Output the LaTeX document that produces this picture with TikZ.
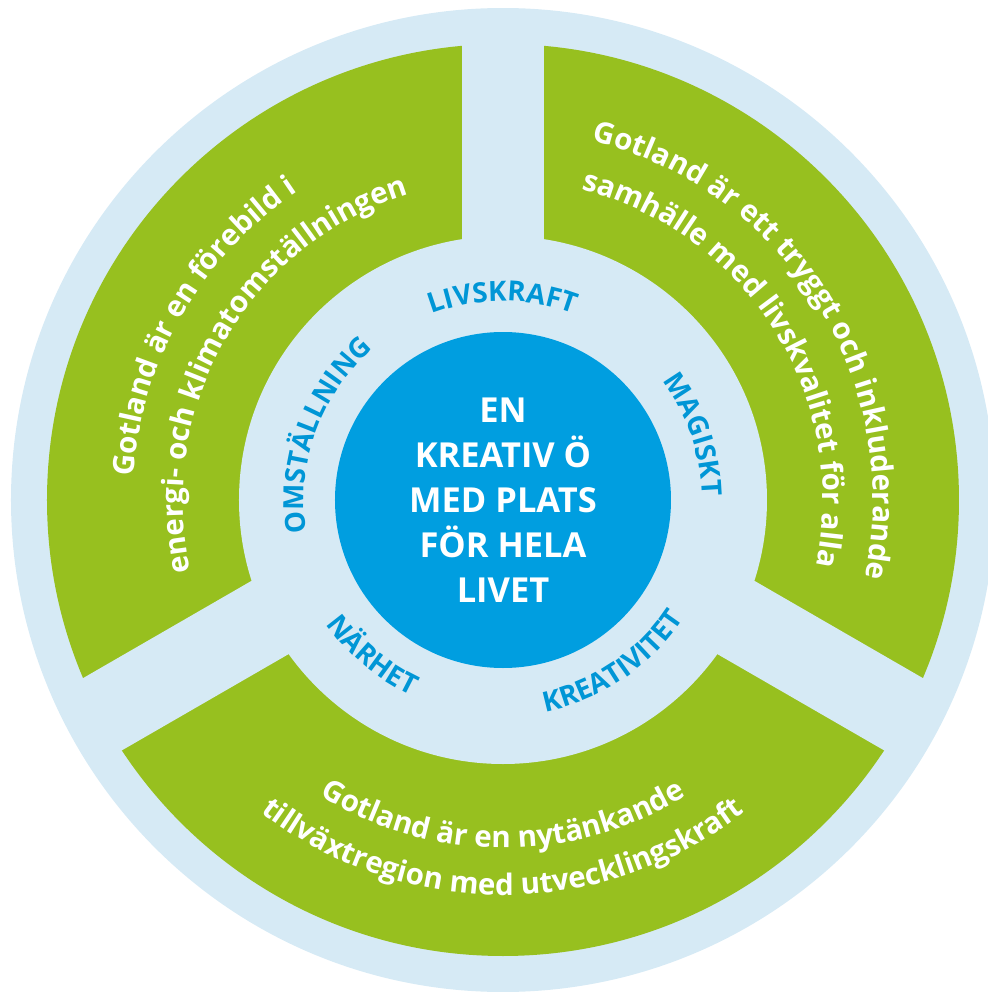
\documentclass[tikz,border=0pt]{standalone}
\usepackage{fontspec}
\setmainfont{Open Sans}
\usetikzlibrary{decorations.text}
\definecolor{ringblue}{RGB}{214,234,245}
\definecolor{leafgreen}{RGB}{151,192,31}
\definecolor{coreblue}{RGB}{0,158,224}
\definecolor{wordblue}{RGB}{0,150,214}
\newcommand\leaffont{\bfseries\fontsize{8.4}{10}\selectfont}
\newcommand\wordfont{\bfseries\fontsize{7.9}{9}\selectfont}
\newcommand\corefont{\bfseries\fontsize{9.8}{12.8}\selectfont}
\begin{document}
\begin{tikzpicture}[
  leaf/.style={decorate,decoration={text along path,text align=center,text color=white}},
  word/.style={decorate,decoration={text along path,text align=center,text color=wordblue}},
  core/.style={circle,fill=coreblue,minimum size=3.36cm,inner sep=0pt,text=white,align=center,font=\corefont}]
  \useasboundingbox (-5.03,-4.92) rectangle (4.85,5.00);
  % rings
  \fill[ringblue] (0,0) circle (4.92);
  \fill[leafgreen] (0,0) circle (4.56);
  \begin{scope}
    \clip (0,0) circle (4.75);
    \foreach \a in {90,210,330}
      \fill[ringblue,rotate around={\a:(0,0.17)}] (0,-0.24) rectangle (5,0.58);
  \end{scope}
  \fill[ringblue] (0,0) circle (2.64);
  \node[core] (core) at (0,0) {EN\\KREATIV Ö\\MED PLATS\\FÖR HELA\\LIVET};
  % green sectors
  \path[leaf,decoration={text={|\leaffont|Gotland är en förebild i}}]
    (210:3.70) arc[start angle=210,end angle=90,radius=3.70];
  \path[leaf,decoration={text={|\leaffont|energi- och klimatomställningen}}]
    (210:3.20) arc[start angle=210,end angle=90,radius=3.20];
  \path[leaf,decoration={text={|\leaffont|Gotland är ett tryggt och inkluderande}}]
    (92:3.70) arc[start angle=92,end angle=-28,radius=3.70];
  \path[leaf,decoration={text={|\leaffont|samhälle med livskvalitet för alla}}]
    (92:3.20) arc[start angle=92,end angle=-28,radius=3.20];
  \path[leaf,decoration={text={|\leaffont|Gotland är en nytänkande}}]
    (210:3.48) arc[start angle=210,end angle=330,radius=3.48];
  \path[leaf,decoration={text={|\leaffont|tillväxtregion med utvecklingskraft}}]
    (210:3.95) arc[start angle=210,end angle=330,radius=3.95];
  % inner words
  \path[word,decoration={text={|\wordfont|LIVSKRAFT}}]
    (135:1.99) arc[start angle=135,end angle=45,radius=1.99];
  \path[word,decoration={text={|\wordfont|MAGISKT}}]
    (64:1.99) arc[start angle=64,end angle=-26,radius=1.99];
  \path[word,decoration={text={|\wordfont|OMSTÄLLNING}}]
    (205:1.99) arc[start angle=205,end angle=115,radius=1.99];
  \path[word,decoration={text={|\wordfont|NÄRHET}}]
    (185:2.16) arc[start angle=185,end angle=275,radius=2.16];
  \path[word,decoration={text={|\wordfont|KREATIVITET}}]
    (259:2.16) arc[start angle=259,end angle=349,radius=2.16];
\end{tikzpicture}
\end{document}
